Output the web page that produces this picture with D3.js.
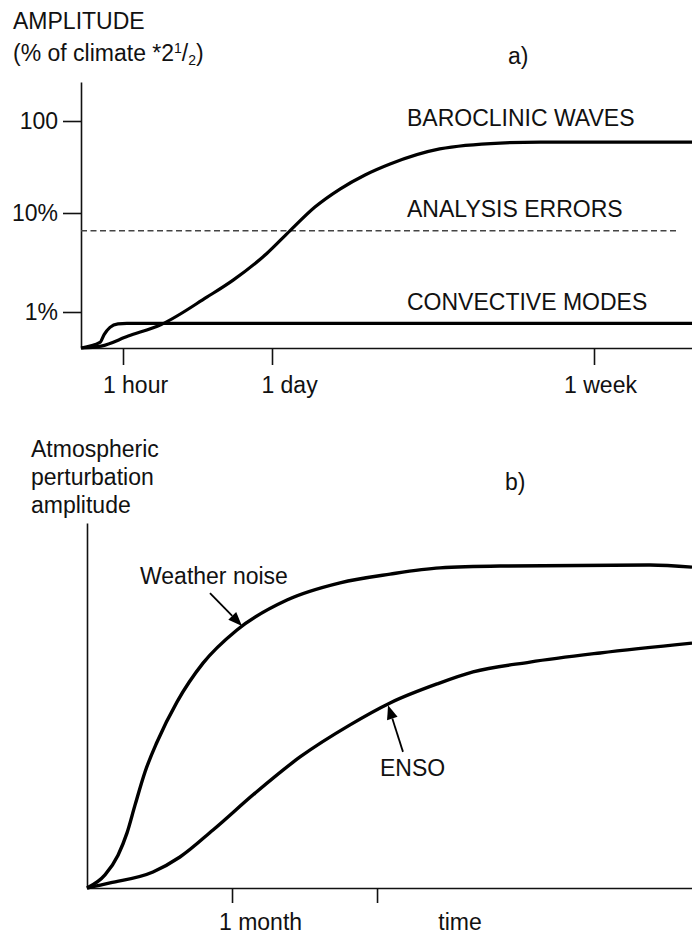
<!DOCTYPE html>
<html><head><meta charset="utf-8">
<script src="https://cdn.jsdelivr.net/npm/d3@7"></script>
<style>
body{margin:0;background:#fff}
svg{display:block}
text{font-family:"Liberation Sans",Arial,Helvetica,sans-serif;fill:#111;font-size:23px}
</style>
</head><body>
<svg id="c" width="692" height="938"></svg>
<script>
// ---------- Panel a data ----------
const aTimeTicks = [1, 24, 168];                 // hours
const aTimeTickLabels = ["1 hour", "1 day", "1 week"];
const aAmpTicks = [1, 10, 100];                  // percent
const aAmpTickLabels = ["1%", "10%", "100"];
const baroclinicHours = [0, 0.48, 1.8, 6.9, 14, 18, 23.2, 32, 43.2, 54.4, 65.6, 76.8, 99, 126, 144, 212];
const baroclinicAmp   = [0.42, 0.44, 0.56, 0.74, 1.42, 2.1, 3.9, 6.6, 11.6, 18.2, 25.9, 34.1, 49.7, 57.6, 58.9, 58.9];
const convectiveHours = [0, 0.45, 0.55, 0.69, 0.88, 1.6, 212];
const convectiveAmp   = [0.42, 0.48, 0.58, 0.69, 0.75, 0.76, 0.76];
const analysisErrorHours = [0, 205];
const analysisErrorAmp   = [6.6, 6.6];

// ---------- Panel b data ----------
const bTimeTicks = [1, 2];                       // months
const bTimeTickLabels = ["1 month", ""];
const weatherMonths = [0, 0.124, 0.214, 0.276, 0.331, 0.4, 0.483, 0.621, 0.8, 1.034, 1.379, 1.745, 2.09, 2.434, 2.848, 3.883, 4.172];
const weatherAmp    = [0, 0.036, 0.090, 0.151, 0.227, 0.318, 0.4, 0.510, 0.616, 0.707, 0.789, 0.836, 0.860, 0.877, 0.882, 0.885, 0.879];
const ensoMonths = [0, 0.159, 0.455, 0.641, 0.869, 1.159, 1.469, 1.814, 2.09, 2.414, 2.662, 3.055, 3.538, 4.172];
const ensoAmp    = [0, 0.014, 0.044, 0.085, 0.159, 0.26, 0.359, 0.447, 0.507, 0.559, 0.592, 0.619, 0.644, 0.671];
// annotation arrows: [tailMonths, tailAmp, tipMonths, tipAmp]
const weatherArrow = [0.848, 0.808, 1.069, 0.718];
const ensoArrow    = [2.179, 0.373, 2.076, 0.501];

const svg = d3.select("#c");

// ================= Panel a =================
const xa = d3.scaleLinear().domain([0, 1, 24, 168, 212]).range([81, 123, 272, 594, 692]);
const ya = d3.scaleLog().domain([0.42, 1, 10, 100, 265]).range([348, 312, 213, 121, 82]);

const ga = svg.append("g");
const yAxA = ga.append("g").attr("transform", "translate(81,0)")
  .call(d3.axisLeft(ya).tickValues(aAmpTicks).tickFormat((d, i) => aAmpTickLabels[i])
        .tickSize(18).tickSizeOuter(0).tickPadding(5));
const xAxA = ga.append("g").attr("transform", "translate(0,348)")
  .call(d3.axisBottom(xa).tickValues(aTimeTicks).tickFormat((d, i) => aTimeTickLabels[i])
        .tickSize(17).tickSizeOuter(0).tickPadding(12));
[yAxA, xAxA].forEach(g => {
  g.selectAll("path,line").attr("stroke", "#111").attr("stroke-width", 1.6);
  g.selectAll("text").attr("font-size", 23).attr("fill", "#111")
    .attr("font-family", '"Liberation Sans",Arial,Helvetica,sans-serif');
});
const aLabelDx = [12, 17, 6];
xAxA.selectAll(".tick text").attr("dx", (d, i) => aLabelDx[i]);

const lineA = d3.line().x(d => xa(d[0])).y(d => ya(d[1])).curve(d3.curveMonotoneX);
ga.append("path").datum(analysisErrorHours.map((h, i) => [h, analysisErrorAmp[i]]))
  .attr("d", d3.line().x(d => xa(d[0])).y(d => ya(d[1])))
  .attr("fill", "none").attr("stroke", "#444").attr("stroke-width", 1.5).attr("stroke-dasharray", "6,3.5");
ga.append("path").datum(convectiveHours.map((h, i) => [h, convectiveAmp[i]]))
  .attr("d", lineA).attr("fill", "none").attr("stroke", "#000").attr("stroke-width", 3.2);
ga.append("path").datum(baroclinicHours.map((h, i) => [h, baroclinicAmp[i]]))
  .attr("d", lineA).attr("fill", "none").attr("stroke", "#000").attr("stroke-width", 3.2);

ga.append("text").attr("x", 13).attr("y", 29).text("AMPLITUDE");
const sub = ga.append("text").attr("x", 13).attr("y", 61);
sub.append("tspan").text("(% of climate *2");
sub.append("tspan").attr("font-size", 14).attr("dy", -8).text("1");
sub.append("tspan").attr("dy", 8).text("/");
sub.append("tspan").attr("font-size", 14).attr("dy", 4).text("2");
sub.append("tspan").attr("dy", -4).text(")");
ga.append("text").attr("x", 508).attr("y", 64).text("a)");
ga.append("text").attr("x", 407).attr("y", 126).text("BAROCLINIC WAVES");
ga.append("text").attr("x", 407).attr("y", 217).text("ANALYSIS ERRORS");
ga.append("text").attr("x", 407).attr("y", 310).text("CONVECTIVE MODES");

// ================= Panel b =================
const xb = d3.scaleLinear().domain([0, 4.172]).range([87, 692]);
const yb = d3.scaleLinear().domain([0, 1]).range([888, 523]);
const gb = svg.append("g");
const xAxB = gb.append("g").attr("transform", "translate(0,888)")
  .call(d3.axisBottom(xb).tickValues(bTimeTicks).tickFormat((d, i) => bTimeTickLabels[i])
        .tickSize(15).tickSizeOuter(0).tickPadding(11));
const yAxB = gb.append("g").attr("transform", "translate(87,0)")
  .call(d3.axisLeft(yb).tickValues([]).tickSizeOuter(0));
[xAxB, yAxB].forEach(g => {
  g.selectAll("path,line").attr("stroke", "#111").attr("stroke-width", 1.6);
  g.selectAll("text").attr("font-size", 23).attr("fill", "#111")
    .attr("font-family", '"Liberation Sans",Arial,Helvetica,sans-serif');
});
xAxB.selectAll(".tick text").attr("dx", 28);

const lineB = d3.line().x(d => xb(d[0])).y(d => yb(d[1])).curve(d3.curveMonotoneX);
gb.append("path").datum(weatherMonths.map((m, i) => [m, weatherAmp[i]]))
  .attr("d", lineB).attr("fill", "none").attr("stroke", "#000").attr("stroke-width", 3.4);
gb.append("path").datum(ensoMonths.map((m, i) => [m, ensoAmp[i]]))
  .attr("d", lineB).attr("fill", "none").attr("stroke", "#000").attr("stroke-width", 3.4);

function arrow(a) {
  const x0 = xb(a[0]), y0 = yb(a[1]), x1 = xb(a[2]), y1 = yb(a[3]);
  const ang = Math.atan2(y1 - y0, x1 - x0), L = 14, W = 5.5;
  const bx = x1 - L * Math.cos(ang), by = y1 - L * Math.sin(ang);
  gb.append("line").attr("x1", x0).attr("y1", y0).attr("x2", bx).attr("y2", by)
    .attr("stroke", "#000").attr("stroke-width", 1.8);
  const px = -Math.sin(ang) * W, py = Math.cos(ang) * W;
  gb.append("path").attr("d", `M${x1},${y1}L${bx + px},${by + py}L${bx - px},${by - py}Z`).attr("fill", "#000");
}
arrow(weatherArrow);
arrow(ensoArrow);

gb.append("text").attr("x", 31).attr("y", 457).text("Atmospheric");
gb.append("text").attr("x", 31).attr("y", 485).text("perturbation");
gb.append("text").attr("x", 31).attr("y", 513).text("amplitude");
gb.append("text").attr("x", 505).attr("y", 490).text("b)");
gb.append("text").attr("x", 140).attr("y", 584).text("Weather noise");
gb.append("text").attr("x", 380).attr("y", 776).text("ENSO");
gb.append("text").attr("x", 460).attr("y", 930).attr("text-anchor", "middle").text("time");
</script>
</body></html>
